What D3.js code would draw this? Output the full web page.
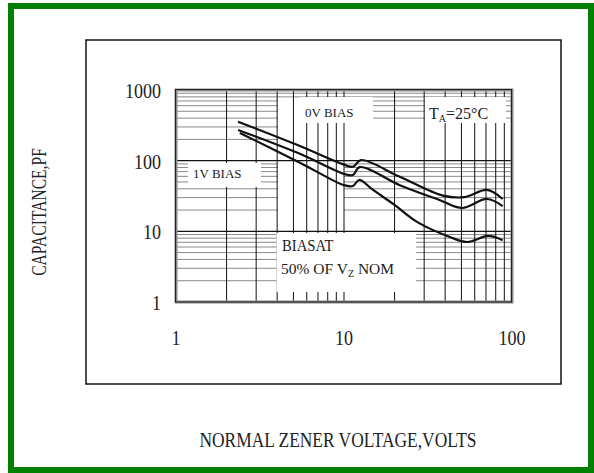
<!DOCTYPE html>
<html lang="en">
<head>
  <meta charset="UTF-8">
  <title>Capacitance vs Zener Voltage</title>
  <script src="https://d3js.org/d3.v7.min.js"></script>
  <style>
    body { margin: 0; background: #fff; }
    text { font-family: "Liberation Serif", "Times New Roman", serif; fill: #222; }
    .minor { stroke: #8a8a8a; stroke-width: 1; }
    .vert { stroke: #111; stroke-width: 1; }
    .major { stroke: #111; stroke-width: 1.3; }
    .curve { fill: none; stroke: #111; stroke-width: 2.2; }
  </style>
</head>
<body>
  <script>
    // 読み取った値 (V, pF)
    const xTicks = [1, 10, 100];
    const yTicks = [1, 10, 100, 1000];
    const bias0V = [[2.34, 356], [5.5, 160], [10, 88], [11.3, 82], [12.6, 102], [21.5, 59], [38.8, 32], [52, 30.5], [71, 38.5], [88, 28.7]];
    const bias1V = [[2.34, 272], [5.5, 124], [10, 65], [11.3, 62.5], [12.4, 81], [21.5, 45], [37, 27.8], [50.5, 21.4], [71, 28.7], [88, 22.8]];
    const biasHalf = [[2.4, 247], [5.5, 93], [10, 45], [11.3, 43.8], [12.3, 53.3], [14.9, 38.5], [20, 23.6], [27.2, 13.6], [42.7, 8.3], [54, 7.06], [72, 8.6], [88, 7.5]];

    const width = 594;
    const height = 473;
    const plot = { left: 176, right: 512, top: 90, bottom: 302 };

    const svg = d3.select('body').append('svg')
      .attr('width', width)
      .attr('height', height);

    const x = d3.scaleLog().domain([1, 100]).range([plot.left, plot.right]);
    const y = d3.scaleLog().domain([1, 1000]).range([plot.bottom, plot.top]);

    // 外枠
    svg.append('rect')
      .attr('x', 11).attr('y', 6).attr('width', 580).attr('height', 464)
      .attr('fill', 'none').attr('stroke', '#008000').attr('stroke-width', 6);
    svg.append('rect')
      .attr('x', 86).attr('y', 40).attr('width', 475).attr('height', 344)
      .attr('fill', 'none').attr('stroke', '#111').attr('stroke-width', 1.5);

    // 補助目盛の値
    function minors(lo, hi) {
      const out = [];
      for (let d = lo; d < hi; d *= 10) {
        for (let k = 2; k <= 9; k++) out.push(k * d);
      }
      return out;
    }

    const g = svg.append('g');

    // 横の補助線
    g.selectAll('line.h')
      .data(minors(1, 1000))
      .enter().append('line')
      .attr('class', 'minor')
      .attr('x1', plot.left).attr('x2', plot.right)
      .attr('y1', d => y(d)).attr('y2', d => y(d));

    // 横線だけ消える部分
    const hMasks = [
      [278, 98, 373, 160],
      [373, 126, 512, 160],
      [278, 162.5, 344, 230.5]
    ];
    g.selectAll('rect.hm')
      .data(hMasks)
      .enter().append('rect')
      .attr('x', d => d[0]).attr('y', d => d[1])
      .attr('width', d => d[2] - d[0]).attr('height', d => d[3] - d[1])
      .attr('fill', '#fff');

    // 縦線
    g.selectAll('line.v')
      .data(minors(1, 100).concat([10]))
      .enter().append('line')
      .attr('class', 'vert')
      .attr('x1', d => x(d)).attr('x2', d => x(d))
      .attr('y1', plot.top).attr('y2', plot.bottom);

    // 10倍ごとの横線
    g.selectAll('line.maj')
      .data([10, 100])
      .enter().append('line')
      .attr('class', 'major')
      .attr('x1', plot.left).attr('x2', plot.right)
      .attr('y1', d => y(d)).attr('y2', d => y(d));

    // ラベルの白い箱
    const boxes = [
      [300, 97, 373, 123],
      [425, 97, 506, 123],
      [188, 163, 261, 187],
      [276.5, 233, 416, 292]
    ];
    g.selectAll('rect.box')
      .data(boxes)
      .enter().append('rect')
      .attr('x', d => d[0]).attr('y', d => d[1])
      .attr('width', d => d[2] - d[0]).attr('height', d => d[3] - d[1])
      .attr('fill', '#fff');

    // プロット枠
    svg.append('rect')
      .attr('x', plot.left).attr('y', plot.top)
      .attr('width', plot.right - plot.left).attr('height', plot.bottom - plot.top)
      .attr('fill', 'none').attr('stroke', '#888').attr('stroke-width', 3);
    svg.append('rect')
      .attr('x', plot.left - 0.5).attr('y', plot.top - 0.5)
      .attr('width', plot.right - plot.left).attr('height', plot.bottom - plot.top + 0.5)
      .attr('fill', 'none').attr('stroke', '#222').attr('stroke-width', 1);

    // 曲線
    const line = d3.line()
      .x(d => x(d[0]))
      .y(d => y(d[1]))
      .curve(d3.curveCatmullRom.alpha(0.5));

    svg.selectAll('path.curve')
      .data([bias0V, bias1V, biasHalf])
      .enter().append('path')
      .attr('class', 'curve')
      .attr('d', line);

    // 文字 (横方向を少し縮める)
    function label(px, py, str, size, anchor, sx, rot) {
      return svg.append('text')
        .attr('transform', `translate(${px},${py}) rotate(${rot || 0}) scale(${sx},1)`)
        .attr('text-anchor', anchor)
        .attr('font-size', size)
        .text(str);
    }

    xTicks.forEach(v => label(x(v), 345, d3.format('d')(v), 21, 'middle', 0.86));
    yTicks.forEach(v => label(161, y(v) + 8, d3.format('d')(v), 21, 'end', 0.86));

    label(338, 447, 'NORMAL ZENER VOLTAGE,VOLTS', 20, 'middle', 0.87);
    label(46, 212, 'CAPACITANCE,PF', 20, 'middle', 0.78, -90);

    label(305, 117, '0V BIAS', 13, 'start', 1);
    label(193, 178, '1V BIAS', 13, 'start', 1);

    const ta = svg.append('text')
      .attr('x', 429).attr('y', 119)
      .attr('font-size', 16);
    ta.append('tspan').text('T');
    ta.append('tspan').attr('font-size', 10).attr('dy', 3).text('A');
    ta.append('tspan').attr('dy', -3).text('=25°C');

    label(282, 251, 'BIASAT', 16, 'start', 0.92);
    const vz = svg.append('text')
      .attr('x', 281).attr('y', 274)
      .attr('font-size', 15.5);
    vz.append('tspan').text('50% OF V');
    vz.append('tspan').attr('font-size', 10).attr('dy', 3).text('Z');
    vz.append('tspan').attr('dy', -3).text(' NOM');
  </script>
</body>
</html>
